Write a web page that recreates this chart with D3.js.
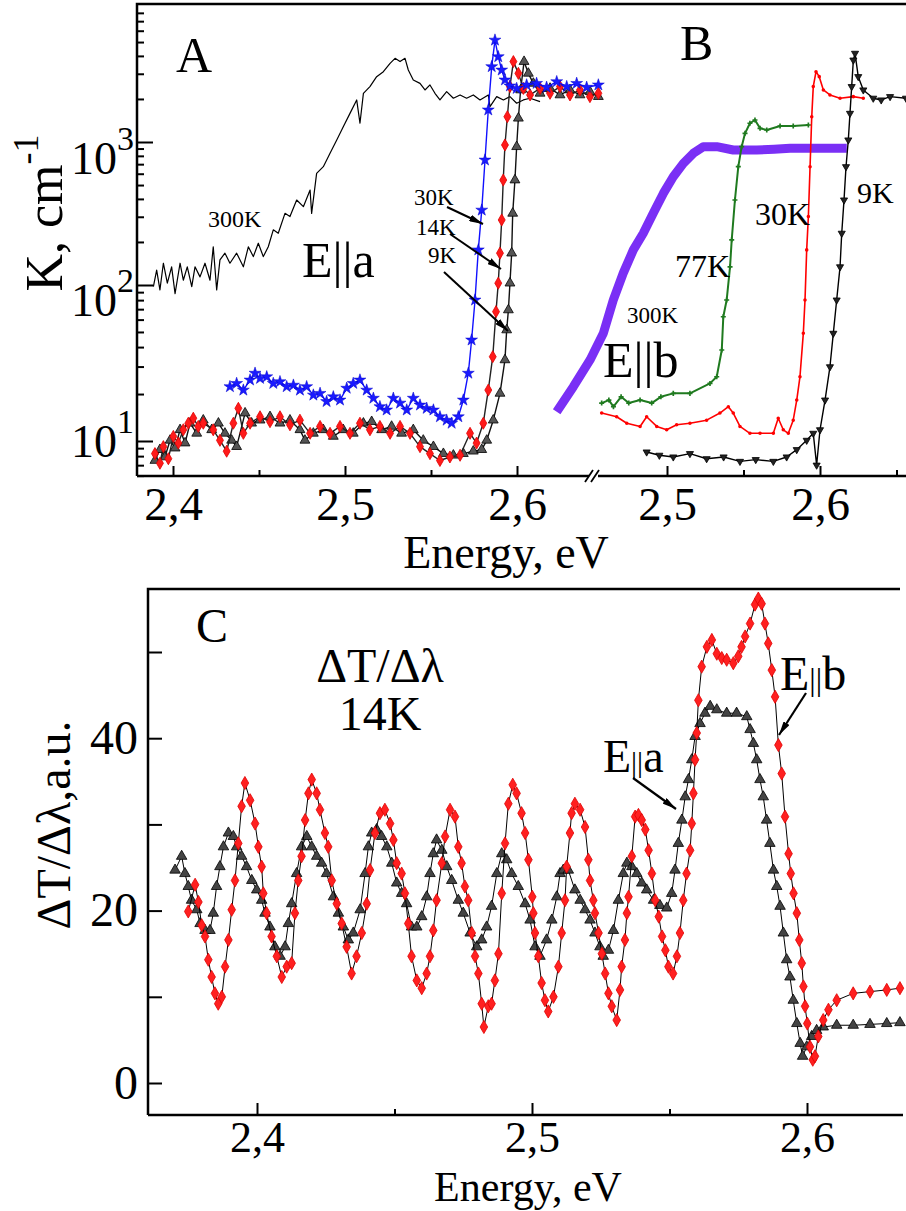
<!DOCTYPE html>
<html>
<head>
<meta charset="utf-8">
<script src="https://cdn.jsdelivr.net/npm/d3@7"></script>
<style>
  body { margin: 0; background: #fff; }
  text { font-family: "Liberation Serif", "Times New Roman", serif; fill: #000; }
</style>
</head>
<body>
<div id="chart"></div>
<script>
// ---- panel A (E||a), [energy eV, K cm^-1] ----
const a300K = [[2.3886,97.5],[2.3905,127],[2.3924,93],[2.3944,142],[2.3967,103],[2.3992,134],[2.4012,88],[2.4041,142],[2.4060,108],[2.4083,134],[2.4109,97.5],[2.4128,134],[2.4157,114],[2.4186,142],[2.4215,108],[2.4234,185],[2.4254,93],[2.4273,150],[2.4302,167],[2.4331,142],[2.4370,167],[2.4409,134],[2.4438,185],[2.4467,158],[2.4496,196],[2.4525,158],[2.4554,185],[2.4583,243],[2.4612,230],[2.4651,317],[2.4680,301],[2.4719,393],[2.4758,353],[2.4797,461],[2.4806,317],[2.4835,604],[2.4874,672],[2.4913,833],[2.4952,1033],[2.4990,1280],[2.5029,1586],[2.5068,1968],[2.5087,1352],[2.5107,2190],[2.5145,2440],[2.5184,2864],[2.5223,3103],[2.5262,3548],[2.5291,3845],[2.5320,3650],[2.5349,3845],[2.5368,3186],[2.5397,2716],[2.5436,2570],[2.5465,2311],[2.5494,2506],[2.5523,2190],[2.5552,1968],[2.5591,2250],[2.5630,2023],[2.5669,2133],[2.5707,2023],[2.5746,2133],[2.5785,1968],[2.5833,2133],[2.5843,1766],[2.5882,2076],[2.5921,1968],[2.5959,2076],[2.5998,1866],[2.6037,1968],[2.6076,2023],[2.6134,1915]];
const a30K = [[2.4331,22.3],[2.4370,23.4],[2.4409,21.2],[2.4448,24.6],[2.4477,27.2],[2.4506,25.2],[2.4545,25.8],[2.4583,23.4],[2.4622,24.0],[2.4661,22.3],[2.4700,22.8],[2.4738,21.2],[2.4777,22.3],[2.4816,19.7],[2.4855,20.2],[2.4893,17.9],[2.4932,19.2],[2.4971,18.3],[2.5010,21.8],[2.5048,23.4],[2.5087,24.6],[2.5126,21.2],[2.5165,18.8],[2.5203,16.6],[2.5242,15.8],[2.5281,18.8],[2.5320,17.5],[2.5359,15.8],[2.5397,18.8],[2.5436,17.0],[2.5475,16.2],[2.5514,15.8],[2.5552,14.3],[2.5591,13.6],[2.5620,13.0],[2.5659,14.3],[2.5688,18.3],[2.5717,27.2],[2.5736,44.4],[2.5756,80.1],[2.5775,176],[2.5795,334],[2.5814,748],[2.5833,1675],[2.5853,3365],[2.5872,5160],[2.5891,3950],[2.5911,3186],[2.5930,2716],[2.5959,2466],[2.5998,2370],[2.6056,2506],[2.6114,2570],[2.6172,2415],[2.6231,2642],[2.6289,2440],[2.6347,2570],[2.6405,2415],[2.6473,2506]];
const a14K = [[2.3895,8.3],[2.3924,7.2],[2.3944,9.2],[2.3973,7.7],[2.4002,10.7],[2.4031,9.7],[2.4060,11.8],[2.4089,13.0],[2.4118,14.0],[2.4147,12.4],[2.4176,13.0],[2.4234,11.8],[2.4273,10.1],[2.4312,8.6],[2.4351,13.0],[2.4380,16.2],[2.4409,11.2],[2.4448,13.0],[2.4506,14.3],[2.4564,13.3],[2.4622,14.3],[2.4680,12.7],[2.4738,13.6],[2.4797,11.2],[2.4855,12.4],[2.4913,11.2],[2.4971,12.4],[2.5029,11.2],[2.5087,13.0],[2.5145,11.8],[2.5203,12.4],[2.5262,11.2],[2.5320,12.4],[2.5378,11.2],[2.5436,9.2],[2.5494,8.3],[2.5552,7.5],[2.5610,7.9],[2.5669,8.1],[2.5727,11.2],[2.5765,9.7],[2.5804,13.0],[2.5833,21.2],[2.5859,34.7],[2.5878,67.5],[2.5891,103],[2.5901,167],[2.5911,285],[2.5920,542],[2.5930,953],[2.5944,1503],[2.5959,2440],[2.5979,3650],[2.6008,3020],[2.6037,2370],[2.6076,2133],[2.6134,2370],[2.6192,2190],[2.6250,2440],[2.6308,2133],[2.6366,2311],[2.6424,2076],[2.6473,2190]];
const a9K = [[2.3895,7.5],[2.3924,8.8],[2.3953,7.9],[2.3983,10.1],[2.4012,9.0],[2.4041,11.8],[2.4070,9.7],[2.4099,13.0],[2.4138,11.2],[2.4176,13.6],[2.4225,11.8],[2.4264,13.0],[2.4302,11.2],[2.4341,10.1],[2.4370,9.2],[2.4419,15.1],[2.4457,13.0],[2.4506,13.6],[2.4564,14.3],[2.4622,13.0],[2.4680,13.6],[2.4738,11.8],[2.4767,10.1],[2.4816,11.2],[2.4874,11.8],[2.4932,10.7],[2.4990,11.8],[2.5048,11.2],[2.5107,13.0],[2.5155,13.3],[2.5213,11.8],[2.5271,12.4],[2.5329,11.2],[2.5397,11.8],[2.5455,10.1],[2.5514,9.2],[2.5572,8.3],[2.5630,8.1],[2.5688,8.3],[2.5746,8.6],[2.5795,8.8],[2.5824,10.1],[2.5862,13.6],[2.5901,20.2],[2.5930,33.1],[2.5940,51.5],[2.5950,69.2],[2.5959,103],[2.5969,167],[2.5975,317],[2.5988,542],[2.5998,927],[2.6008,1466],[2.6021,2311],[2.6041,3650],[2.6066,3020],[2.6095,2570],[2.6134,2190],[2.6192,2370],[2.6250,2133],[2.6308,2311],[2.6366,2133],[2.6424,2250],[2.6473,2076]];

// ---- panel B (E||b) ----
const b300K = [[2.4279,15.4],[2.4388,22.3],[2.4497,33.1],[2.4584,49.0],[2.4649,80.1],[2.4714,121],[2.4780,176],[2.4845,230],[2.4910,317],[2.4976,437],[2.5041,572],[2.5107,709],[2.5172,833],[2.5237,927],[2.5325,927],[2.5433,879],[2.5586,879],[2.5700,890],[2.5804,903],[2.6022,903],[2.6175,903]];
const b77K = [[2.4573,17.5],[2.4620,18.3],[2.4650,16.6],[2.4700,19.2],[2.4750,17.5],[2.4824,18.3],[2.4900,17.5],[2.4960,19.2],[2.5041,20.2],[2.5150,20.2],[2.5281,23.4],[2.5325,25.8],[2.5358,38.3],[2.5368,62.6],[2.5390,80.1],[2.5412,134],[2.5423,207],[2.5444,393],[2.5466,672],[2.5488,927],[2.5510,1150],[2.5542,1352],[2.5575,1425],[2.5608,1247],[2.5652,1214],[2.5739,1294],[2.5825,1294],[2.5924,1315]];
const b30K = [[2.4573,15.1],[2.4671,14.3],[2.4737,13.0],[2.4824,12.4],[2.4867,14.3],[2.4933,12.4],[2.4998,11.8],[2.5063,12.7],[2.5150,13.0],[2.5259,13.6],[2.5346,15.1],[2.5401,16.6],[2.5433,15.1],[2.5477,12.4],[2.5542,11.2],[2.5608,11.2],[2.5695,11.2],[2.5727,14.0],[2.5760,11.8],[2.5793,11.2],[2.5825,13.6],[2.5848,18.3],[2.5869,25.8],[2.5891,49.0],[2.5902,80.1],[2.5913,176],[2.5924,301],[2.5935,672],[2.5946,1503],[2.5956,2440],[2.5974,3103],[2.5995,2864],[2.6022,2311],[2.6065,2133],[2.6131,2023],[2.6218,2076],[2.6283,2023]];
const b9K = [[2.4867,8.5],[2.4950,8.1],[2.5041,7.9],[2.5150,8.3],[2.5259,7.7],[2.5370,7.9],[2.5477,7.4],[2.5580,7.6],[2.5695,7.4],[2.5782,7.9],[2.5848,8.8],[2.5913,10.1],[2.5956,11.2],[2.5978,7.0],[2.6000,11.8],[2.6033,18.3],[2.6065,29.9],[2.6087,49.0],[2.6109,80.1],[2.6131,134],[2.6142,230],[2.6157,393],[2.6170,672],[2.6185,1033],[2.6196,1586],[2.6207,2440],[2.6218,3741],[2.6229,4170],[2.6250,2864],[2.6283,2311],[2.6348,2023],[2.6400,1968],[2.6458,2076],[2.6562,2023]];

// ---- panel C, dT/dlambda at 14K ----
const cEb = [[2.3750,19.9],[2.3775,23.0],[2.3787,21.0],[2.3799,18.3],[2.3811,17.0],[2.3823,14.3],[2.3835,12.3],[2.3847,10.4],[2.3859,9.2],[2.3872,10.0],[2.3884,13.5],[2.3896,16.6],[2.3908,20.1],[2.3920,23.5],[2.3932,27.8],[2.3944,32.1],[2.3956,34.8],[2.3975,32.8],[2.3993,30.1],[2.4005,27.4],[2.4017,25.1],[2.4023,22.0],[2.4035,19.7],[2.4053,17.0],[2.4072,14.7],[2.4090,12.3],[2.4108,13.5],[2.4126,13.9],[2.4138,19.7],[2.4150,23.5],[2.4162,26.3],[2.4175,30.5],[2.4187,33.6],[2.4199,35.2],[2.4217,33.6],[2.4229,31.7],[2.4247,29.0],[2.4259,27.4],[2.4272,23.5],[2.4290,20.8],[2.4308,18.5],[2.4326,15.8],[2.4344,12.7],[2.4362,14.7],[2.4381,17.4],[2.4399,20.8],[2.4411,24.7],[2.4429,29.0],[2.4447,31.3],[2.4465,31.7],[2.4484,30.1],[2.4496,28.2],[2.4508,25.5],[2.4526,24.3],[2.4538,22.0],[2.4550,18.5],[2.4562,14.7],[2.4581,11.9],[2.4599,11.0],[2.4617,12.7],[2.4629,14.7],[2.4641,17.7],[2.4653,21.2],[2.4672,25.5],[2.4684,28.6],[2.4702,31.7],[2.4720,30.9],[2.4732,27.4],[2.4744,25.5],[2.4756,22.8],[2.4768,21.2],[2.4781,17.4],[2.4793,14.7],[2.4805,12.7],[2.4817,9.2],[2.4825,6.5],[2.4841,8.9],[2.4853,9.2],[2.4865,11.9],[2.4878,15.0],[2.4890,22.0],[2.4902,27.8],[2.4914,32.4],[2.4930,34.6],[2.4944,33.6],[2.4962,31.3],[2.4975,29.0],[2.4987,25.9],[2.5001,21.6],[2.5005,19.7],[2.5011,17.4],[2.5023,14.7],[2.5035,11.6],[2.5047,9.6],[2.5059,8.3],[2.5078,10.0],[2.5096,13.5],[2.5108,17.4],[2.5120,21.2],[2.5126,25.1],[2.5138,29.0],[2.5144,31.3],[2.5156,32.4],[2.5175,31.7],[2.5193,29.7],[2.5205,25.9],[2.5211,23.5],[2.5223,21.2],[2.5229,19.7],[2.5242,17.4],[2.5254,15.0],[2.5266,12.7],[2.5278,10.4],[2.5290,8.9],[2.5308,7.3],[2.5320,10.8],[2.5326,13.5],[2.5338,16.6],[2.5345,19.7],[2.5351,21.6],[2.5363,26.3],[2.5375,30.9],[2.5387,31.1],[2.5399,30.5],[2.5412,29.4],[2.5424,27.0],[2.5436,24.3],[2.5448,21.2],[2.5461,19.3],[2.5473,17.0],[2.5485,15.4],[2.5496,13.5],[2.5513,12.7],[2.5527,14.7],[2.5538,17.4],[2.5550,21.2],[2.5562,24.3],[2.5575,27.0],[2.5581,30.1],[2.5587,33.6],[2.5593,37.5],[2.5599,40.6],[2.5605,44.4],[2.5617,48.3],[2.5636,50.6],[2.5654,51.4],[2.5672,49.8],[2.5690,49.3],[2.5708,49.1],[2.5732,48.7],[2.5750,49.5],[2.5762,50.6],[2.5775,51.8],[2.5793,53.3],[2.5811,55.5],[2.5823,56.2],[2.5835,55.6],[2.5847,53.3],[2.5859,51.0],[2.5872,47.9],[2.5884,44.8],[2.5896,39.2],[2.5908,35.9],[2.5920,30.9],[2.5933,26.6],[2.5941,24.3],[2.5951,22.0],[2.5963,19.7],[2.5972,16.6],[2.5981,13.9],[2.5987,11.2],[2.5993,8.9],[2.6001,6.9],[2.6011,4.2],[2.6021,2.7],[2.6029,3.1],[2.6041,5.4],[2.6059,7.3],[2.6078,8.5],[2.6108,9.6],[2.6168,10.4],[2.6229,10.6],[2.6290,10.8],[2.6338,11.0]];
const cEa = [[2.3702,24.7],[2.3726,26.3],[2.3738,24.3],[2.3750,22.8],[2.3762,21.2],[2.3781,20.1],[2.3793,18.5],[2.3811,17.7],[2.3829,17.7],[2.3841,19.7],[2.3853,22.8],[2.3865,25.1],[2.3878,27.4],[2.3896,29.0],[2.3914,28.6],[2.3926,27.4],[2.3944,26.3],[2.3962,25.1],[2.3981,23.5],[2.3999,22.4],[2.4017,21.2],[2.4029,19.7],[2.4047,18.1],[2.4065,15.8],[2.4084,14.7],[2.4102,15.8],[2.4114,18.5],[2.4126,20.8],[2.4144,24.3],[2.4162,27.4],[2.4181,28.6],[2.4199,27.4],[2.4217,26.3],[2.4235,25.5],[2.4253,24.3],[2.4278,21.6],[2.4296,19.7],[2.4314,18.1],[2.4332,16.6],[2.4350,17.4],[2.4375,20.1],[2.4393,24.3],[2.4405,27.4],[2.4417,29.0],[2.4435,29.4],[2.4453,28.6],[2.4472,27.4],[2.4490,25.5],[2.4508,23.2],[2.4526,22.0],[2.4544,20.8],[2.4562,18.1],[2.4581,18.1],[2.4599,19.3],[2.4617,21.6],[2.4629,24.3],[2.4641,26.6],[2.4653,28.2],[2.4672,27.0],[2.4690,25.1],[2.4708,23.5],[2.4732,21.2],[2.4750,19.7],[2.4775,17.4],[2.4799,15.8],[2.4817,16.6],[2.4835,18.1],[2.4853,20.5],[2.4872,24.3],[2.4890,26.6],[2.4908,25.9],[2.4926,24.3],[2.4950,22.8],[2.4975,20.8],[2.4993,18.9],[2.5011,15.8],[2.5029,14.7],[2.5053,16.6],[2.5072,18.9],[2.5090,21.6],[2.5102,24.3],[2.5114,24.7],[2.5132,24.7],[2.5156,22.4],[2.5175,21.2],[2.5193,20.1],[2.5211,18.9],[2.5229,17.4],[2.5247,15.8],[2.5259,14.7],[2.5278,15.4],[2.5296,17.7],[2.5314,21.2],[2.5332,24.3],[2.5345,25.5],[2.5363,25.1],[2.5381,24.3],[2.5399,23.2],[2.5417,22.4],[2.5442,21.2],[2.5465,20.6],[2.5490,20.3],[2.5508,22.0],[2.5520,24.7],[2.5532,27.8],[2.5545,30.5],[2.5557,33.2],[2.5569,35.2],[2.5581,37.5],[2.5593,40.2],[2.5611,41.7],[2.5629,42.9],[2.5648,43.7],[2.5672,43.3],[2.5708,42.9],[2.5744,42.9],[2.5781,42.5],[2.5793,41.0],[2.5805,39.4],[2.5817,37.5],[2.5829,35.2],[2.5841,33.2],[2.5853,30.5],[2.5865,27.8],[2.5878,24.7],[2.5890,22.8],[2.5902,20.5],[2.5914,17.4],[2.5926,14.3],[2.5938,12.3],[2.5950,9.6],[2.5963,6.9],[2.5975,4.6],[2.5984,3.1],[2.5999,4.2],[2.6017,5.4],[2.6035,6.1],[2.6059,6.5],[2.6108,6.7],[2.6168,6.7],[2.6229,6.8],[2.6290,6.9],[2.6338,7.0]];

// ticks
const kMajor = [10, 100, 1000];
const kMinor = [6,7,8,9,20,30,40,50,60,70,80,90,200,300,400,500,600,700,800,900,2000,3000,4000,5000,6000,7000,8000];
const kExp = ["1", "2", "3"];
const eMajorA = [2.4, 2.5, 2.6], eMinorA = [2.45, 2.55];
const eMajorB = [2.5, 2.6], eMinorB = [2.55, 2.65];
const cMajor = [0, 20, 40], cMinor = [10, 30, 50];
const eMajorC = [2.4, 2.5, 2.6], eMinorC = [2.45, 2.55];

const W = 906, H = 1211;
const svg = d3.select("#chart").append("svg").attr("width", W).attr("height", H);

svg.append("defs").append("marker")
    .attr("id", "arr").attr("viewBox", "0 0 14 7").attr("refX", 14).attr("refY", 3.5)
    .attr("markerWidth", 14).attr("markerHeight", 7).attr("markerUnits", "userSpaceOnUse")
    .attr("orient", "auto")
  .append("path").attr("d", "M0,0L14,3.5L0,7Z").attr("fill", "#000");

const comma = d => d3.format(".1f")(d).replace(".", ",");

// scales
const xA = d3.scaleLinear().domain([2.4, 2.6]).range([173, 517]);
const xB = d3.scaleLinear().domain([2.5, 2.6]).range([667, 820]);
const yK = d3.scaleLog().domain([10, 100, 1000]).range([441, 285, 142]);
const xC = d3.scaleLinear().domain([2.4, 2.6]).range([257, 807]);
const yC = d3.scaleLinear().domain([0, 50]).range([1083, 652]);

const fTop = {left: 137, top: 4, bottom: 476, right: 906, brk: 593};
const fBot = {left: 148, top: 589, bottom: 1115, right: 903};

svg.append("clipPath").attr("id", "clipTop").append("rect")
    .attr("x", fTop.left).attr("y", fTop.top).attr("width", fTop.right - fTop.left).attr("height", fTop.bottom - fTop.top);

function series(g, data, x, y, o) {
  g.append("path").datum(data)
      .attr("d", d3.line().x(d => x(d[0])).y(d => y(d[1])))
      .attr("fill", "none").attr("stroke", o.line).attr("stroke-width", o.lw)
      .attr("stroke-linejoin", "round");
  if (!o.symbol) return;
  g.append("g").selectAll("path").data(data).join("path")
      .attr("transform", d => `translate(${x(d[0])},${y(d[1])})` + (o.rot ? ` rotate(${o.rot})` : ""))
      .attr("d", d3.symbol(o.symbol, o.size))
      .attr("fill", o.fill).attr("stroke", o.stroke).attr("stroke-width", o.sw || 0.8);
}

function styleAxis(g, size) {
  g.select(".domain").remove();
  g.selectAll("line").attr("stroke", "#000").attr("stroke-width", 2);
  g.selectAll("text").attr("font-family", "Liberation Serif, serif").attr("font-size", size).attr("fill", "#000");
}

// ===== top panel =====
const pTop = svg.append("g").attr("clip-path", "url(#clipTop)");
series(pTop, a300K, xA, yK, {line: "#000", lw: 1.2});
series(pTop, a9K, xA, yK, {line: "#111", lw: 1.4, symbol: d3.symbolTriangle, size: 42, fill: "#555", stroke: "#000"});
series(pTop, a14K, xA, yK, {line: "#222", lw: 1.4, symbol: d3.symbolDiamond, size: 42, fill: "#ff1a1a", stroke: "#e00000"});
series(pTop, a30K, xA, yK, {line: "#1010ff", lw: 1.4, symbol: d3.symbolStar, size: 44, fill: "#1a1aff", stroke: "#0000cc", sw: 0.5});

series(pTop, b300K, xB, yK, {line: "#7a2ff5", lw: 9});
series(pTop, b77K, xB, yK, {line: "#1f7a1f", lw: 2, symbol: d3.symbolCross, size: 14, fill: "#1f7a1f", stroke: "none"});
series(pTop, b30K, xB, yK, {line: "#ff0000", lw: 1.6, symbol: d3.symbolCircle, size: 10, fill: "#ff0000", stroke: "none"});
series(pTop, b9K, xB, yK, {line: "#000", lw: 1.4, symbol: d3.symbolTriangle, size: 22, fill: "#222", stroke: "#000", rot: 180});

// frame
svg.append("path")
    .attr("d", `M${fTop.left},${fTop.bottom}V${fTop.top}H${fTop.right}M${fTop.left},${fTop.bottom}H${fTop.brk - 4}M${fTop.brk + 5},${fTop.bottom}H${fTop.right}`)
    .attr("fill", "none").attr("stroke", "#000").attr("stroke-width", 2.5);
svg.append("path")
    .attr("d", `M${fTop.brk - 8},${fTop.bottom + 6}L${fTop.brk},${fTop.bottom - 6}M${fTop.brk - 2},${fTop.bottom + 6}L${fTop.brk + 6},${fTop.bottom - 6}`)
    .attr("fill", "none").attr("stroke", "#000").attr("stroke-width", 1.8);

// y axis (log)
svg.append("g").attr("transform", `translate(${fTop.left},0)`)
    .call(d3.axisRight(yK).tickValues(kMajor).tickSize(16).tickFormat(""))
    .call(g => styleAxis(g, 0));
svg.append("g").attr("transform", `translate(${fTop.left},0)`)
    .call(d3.axisRight(yK).tickValues(kMinor).tickSize(7).tickFormat(""))
    .call(g => styleAxis(g, 0));

const labShift = [16, 31, 32];
kMajor.forEach((v, i) => {
  const t = svg.append("text").attr("x", 134).attr("y", yK(v) + labShift[i]).attr("text-anchor", "end");
  t.append("tspan").attr("font-size", 46).text("10");
  t.append("tspan").attr("font-size", 34).attr("dy", -24).text(kExp[i]);
});

const yt = svg.append("text").attr("transform", "translate(62,213) rotate(-90)").attr("text-anchor", "middle");
yt.append("tspan").attr("font-size", 52).text("K, cm");
yt.append("tspan").attr("font-size", 36).attr("dy", -24).text("-1");

// x axes (top)
svg.append("g").attr("transform", `translate(0,${fTop.bottom})`)
    .call(d3.axisBottom(xA).tickValues(eMajorA).tickSizeInner(-10).tickSizeOuter(0).tickPadding(11).tickFormat(comma))
    .call(g => styleAxis(g, 47));
svg.append("g").attr("transform", `translate(0,${fTop.bottom})`)
    .call(d3.axisBottom(xA).tickValues(eMinorA).tickSizeInner(-6).tickSizeOuter(0).tickFormat(""))
    .call(g => styleAxis(g, 0));
svg.append("g").attr("transform", `translate(0,${fTop.bottom})`)
    .call(d3.axisBottom(xB).tickValues(eMajorB).tickSizeInner(-10).tickSizeOuter(0).tickPadding(11).tickFormat(comma))
    .call(g => styleAxis(g, 47));
svg.append("g").attr("transform", `translate(0,${fTop.bottom})`)
    .call(d3.axisBottom(xB).tickValues(eMinorB).tickSizeInner(-6).tickSizeOuter(0).tickFormat(""))
    .call(g => styleAxis(g, 0));

svg.append("text").attr("x", 506).attr("y", 568).attr("text-anchor", "middle").attr("font-size", 46).text("Energy, eV");

// annotations top
function label(x, y, size, txt, anchor) {
  return svg.append("text").attr("x", x).attr("y", y).attr("font-size", size)
      .attr("text-anchor", anchor || "start").text(txt);
}
function arrow(x1, y1, x2, y2, w) {
  svg.append("line").attr("x1", x1).attr("y1", y1).attr("x2", x2).attr("y2", y2)
      .attr("stroke", "#000").attr("stroke-width", w || 2).attr("marker-end", "url(#arr)");
}
label(176, 72, 50, "A");
label(680, 60, 50, "B");
label(302, 277, 50, "E||a");
label(208, 227, 24, "300K");
label(414, 205, 23, "30K");
label(416, 235, 23, "14K");
label(428, 263, 23, "9K");
arrow(447, 207, 483, 224);
arrow(450, 234, 501, 269);
arrow(444, 272, 508, 331);
label(603, 377, 50, "E||b");
label(627, 323, 23, "300K");
label(675, 277, 32, "77K");
label(755, 225, 32, "30K");
label(857, 203, 30, "9K");

// ===== panel C =====
const pC = svg.append("g");
series(pC, cEa, xC, yC, {line: "#000", lw: 1, symbol: d3.symbolTriangle, size: 48, fill: "#444", stroke: "#000"});
series(pC, cEb, xC, yC, {line: "#000", lw: 1, symbol: d3.symbolDiamond, size: 50, fill: "#ff2020", stroke: "#e00000"});

svg.append("path")
    .attr("d", `M${fBot.left},${fBot.bottom}V${fBot.top}H${fBot.right - 3}M${fBot.left},${fBot.bottom}H${fBot.right}`)
    .attr("fill", "none").attr("stroke", "#000").attr("stroke-width", 2.5);

svg.append("g").attr("transform", `translate(${fBot.left},0)`)
    .call(d3.axisLeft(yC).tickValues(cMajor).tickSizeInner(-14).tickSizeOuter(0).tickPadding(10).tickFormat(d3.format("d")))
    .call(g => styleAxis(g, 48));
svg.append("g").attr("transform", `translate(${fBot.left},0)`)
    .call(d3.axisLeft(yC).tickValues(cMinor).tickSizeInner(-14).tickSizeOuter(0).tickFormat(""))
    .call(g => styleAxis(g, 0));
svg.append("g").attr("transform", `translate(0,${fBot.bottom})`)
    .call(d3.axisBottom(xC).tickValues(eMajorC).tickSizeInner(-12).tickSizeOuter(0).tickPadding(6).tickFormat(comma))
    .call(g => styleAxis(g, 44));
svg.append("g").attr("transform", `translate(0,${fBot.bottom})`)
    .call(d3.axisBottom(xC).tickValues(eMinorC).tickSizeInner(-6).tickSizeOuter(0).tickFormat(""))
    .call(g => styleAxis(g, 0));

svg.append("text").attr("x", 528).attr("y", 1201).attr("text-anchor", "middle").attr("font-size", 42).text("Energy, eV");
svg.append("text").attr("transform", "translate(70,825) rotate(-90)").attr("text-anchor", "middle")
    .attr("font-size", 48).text("ΔT/Δλ,a.u.");

label(196, 642, 48, "C");
label(380, 682, 48, "ΔT/Δλ", "middle");
label(380, 730, 48, "14K", "middle");
const ea = svg.append("text").attr("x", 603).attr("y", 772).attr("font-size", 46);
ea.append("tspan").text("E");
ea.append("tspan").attr("font-size", 30).text("||");
ea.append("tspan").text("a");
const eb = svg.append("text").attr("x", 780).attr("y", 690).attr("font-size", 48);
eb.append("tspan").text("E");
eb.append("tspan").attr("font-size", 32).text("||");
eb.append("tspan").text("b");
arrow(633, 778, 676, 809, 2.2);
arrow(806, 693, 779, 735, 2.2);
</script>
</body>
</html>
